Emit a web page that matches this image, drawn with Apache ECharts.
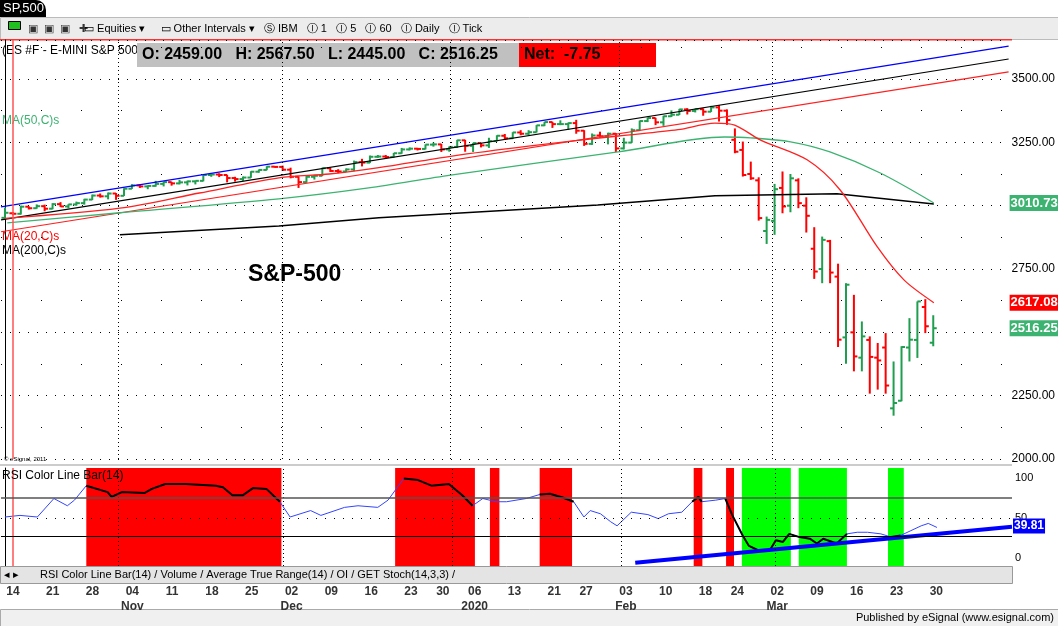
<!DOCTYPE html>
<html>
<head>
<meta charset="utf-8">
<script src="https://cdn.jsdelivr.net/npm/echarts@6/dist/echarts.min.js"></script>
<style>
  html, body { margin: 0; padding: 0; background: #fff; }
  #chart { width: 1058px; height: 626px; }
</style>
</head>
<body>
<div id="chart"></div>
<script>
// daily bars, Oct 11 2019 .. Mar 30 2020  [open, high, low, close]
var ohlc = [
  [2952,2993,2950,2972],[2970,2975,2962,2968],[2968,3000,2965,2996],[2996,2998,2985,2990],[2990,3005,2988,2998],
  [2998,3004,2978,2988],[2988,3010,2986,3006],[3006,3014,2995,2997],[2997,3006,2990,3005],[3005,3016,3000,3010],
  [3010,3027,3004,3024],[3024,3044,3022,3040],[3040,3048,3032,3037],[3037,3052,3025,3048],[3048,3050,3023,3039],
  [3039,3069,3038,3067],[3067,3085,3066,3080],[3080,3084,3070,3076],[3076,3080,3065,3078],[3078,3098,3075,3086],
  [3086,3095,3076,3093],[3093,3094,3079,3088],[3088,3102,3084,3092],[3092,3099,3080,3096],[3096,3099,3084,3098],
  [3098,3122,3096,3121],[3121,3126,3114,3123],[3123,3128,3113,3121],[3121,3122,3092,3109],[3109,3114,3095,3105],
  [3105,3115,3098,3111],[3111,3136,3110,3134],[3134,3143,3130,3141],[3141,3156,3140,3154],[3154,3156,3150,3153],
  [3153,3158,3137,3142],[3142,3150,3108,3114],[3114,3116,3070,3093],[3093,3120,3090,3114],[3114,3121,3103,3118],
  [3118,3150,3117,3148],[3148,3150,3133,3137],[3137,3144,3128,3135],[3135,3147,3133,3143],[3143,3178,3136,3172],
  [3172,3185,3155,3170],[3170,3198,3168,3193],[3193,3200,3189,3194],[3194,3200,3187,3192],[3192,3208,3190,3207],
  [3207,3228,3205,3222],[3222,3230,3218,3225],[3225,3228,3218,3224],[3224,3242,3222,3241],[3241,3249,3233,3242],
  [3242,3244,3212,3222],[3222,3234,3213,3232],[3232,3260,3228,3258],[3258,3260,3213,3236],[3236,3248,3212,3247],
  [3247,3248,3230,3238],[3238,3268,3228,3255],[3255,3278,3254,3276],[3276,3283,3260,3266],[3266,3290,3264,3289],
  [3289,3298,3278,3284],[3284,3298,3279,3290],[3290,3318,3289,3317],[3317,3331,3314,3330],[3330,3331,3307,3322],
  [3322,3337,3318,3322],[3322,3328,3300,3326],[3326,3339,3284,3296],[3296,3298,3236,3244],[3244,3285,3240,3277],
  [3277,3292,3268,3274],[3274,3288,3242,3284],[3284,3287,3212,3226],[3226,3268,3222,3249],[3249,3305,3248,3298],
  [3298,3336,3296,3334],[3334,3348,3330,3346],[3346,3347,3318,3329],[3329,3355,3315,3353],[3353,3376,3350,3359],
  [3359,3382,3358,3380],[3380,3385,3360,3374],[3374,3383,3368,3381],[3381,3384,3355,3371],[3371,3394,3370,3388],
  [3388,3397,3332,3375],[3375,3380,3319,3338],[3260,3305,3207,3213],[3220,3253,3115,3121],[3125,3174,3102,3108],
  [3100,3112,2941,2951],[2900,2957,2849,2944],[2940,3086,2885,3065],[3070,3135,2970,2997],[3000,3125,2974,3108],
  [3100,3108,2990,3010],[3000,3033,2894,2960],[2830,2915,2711,2740],[2750,2878,2694,2865],[2860,2865,2694,2736],
  [2720,2771,2442,2471],[2480,2694,2376,2688],[2500,2648,2346,2405],[2400,2543,2346,2484],[2470,2484,2258,2403],
  [2400,2458,2274,2389],[2440,2497,2258,2290],[2200,2385,2171,2221],[2230,2445,2228,2442],[2440,2556,2385,2471],
  [2470,2622,2399,2622],[2600,2631,2497,2524],[2459,2567.5,2445,2516.25]
];
var netChange = -7.75;

// moving averages, knots (slot position, price)
var ma20Pos = [0,14.6,24.7,34.8,41.2,47.5,56.6,66.5,77.9,85.5,90.2,92.7,96,101.9,106.1,110.8,114.2,118];
var ma20Val = [2950,2990,3050,3110,3125,3150,3195,3235,3275,3300,3326,3318,3259,3181,3062,2838,2707,2617.08];
var ma50Pos = [0.3,14.6,34.8,46.2,56.6,77.9,91.4,94.7,99.8,104.8,111.2,118];
var ma50Val = [2932,2972,3027,3070,3121,3212,3271,3268,3252,3212,3129,3010.73];
var ma200Pos = [14.6,34.8,47.5,75.3,90.2,105.7,118];
var ma200Val = [2885,2920,2952,3003,3039,3047,3007];

// regression channel ends (left, right)
var chanUpper = [2995,3630];
var chanMid = [2944,3579];
var chanLower = [2897,3528];

// RSI(14) knots
var rsiPos = [0,1.9,4.1,6.2,7.9,8.8,10.3,13,13.5,14.8,17.7,18.6,20.3,22.9,26.7,27.6,28.8,30.1,31.4,33.1,34.8,36.1,38.7,40,43,44.7,47.2,48.5,50.5,52.3,54,56.2,57.9,59.2,60.5,62.2,63.5,66,67.7,69,70.7,72,73.3,74.1,75.4,76.7,77.5,79.3,81.4,82.7,84,85.7,87,87.8,88.2,90,91.2,92.1,93.4,94.2,95.5,96.8,97.6,98.5,99.3,100.6,101.9,102.8,103.6,105.3,106.6,107.9,109.2,110.9,112.2,113.4,114.7,116,116.9,118];
var rsiVal = [51,53,51,74,65,72,90,82,76,82,81,86,92,92,90,88,78,78,87,86,70,51,59,53,63,65,63,72,99,97,90,92,78,65,74,70,70,74,79,80,75,70,51,59,55,45,40,57,54,49,55,57,70,76,70,72,74,53,28,15,9,9,22,20,30,26,24,18,24,18,30,32,32,30,26,28,34,40,43,38];
var rsiTrend = [[79.8,-6],[127.5,39]];
var redBands = [[10.3,35],[49.4,59.5],[61.4,62.6],[67.7,71.8],[87.2,88.3],[91.3,92.3]];
var greenBands = [[93.3,99.5],[100.5,106.6],[111.8,113.8]];
var monthLines = [14.4,35.2,56.6,78,97.5];

// trading calendar (categories)
var holidays = ['2019-12-25','2020-01-01','2020-01-20','2020-02-17','2020-04-10'];
var dates = [];
(function () {
  var d = new Date(Date.UTC(2019, 9, 11));
  while (dates.length < 127) {
    var s = d.toISOString().slice(0, 10);
    var wd = d.getUTCDay();
    if (wd !== 0 && wd !== 6 && holidays.indexOf(s) < 0) dates.push(s);
    d.setUTCDate(d.getUTCDate() + 1);
  }
})();
var monthNames = {'11':'Nov','12':'Dec','01':'2020','02':'Feb','03':'Mar'};
var axisText = {};
(function () {
  var seen = {};
  for (var i = 1; i < ohlc.length; i++) {
    var cur = new Date(dates[i] + 'T00:00:00Z'), prev = new Date(dates[i - 1] + 'T00:00:00Z');
    if (cur.getUTCDay() < prev.getUTCDay() || (cur - prev) > 3 * 864e5) {
      var m = dates[i].slice(5, 7), day = dates[i].slice(8, 10);
      var t = '{d|' + day + '}';
      if (i > 1 && !seen[m]) { seen[m] = 1; t += '\n{m|' + monthNames[m] + '}'; }
      seen[m] = 1;
      axisText[i] = t;
    }
  }
})();

var GREEN = '#1f9e4f', RED = '#ff0000', MAGREEN = '#3cb371';
var last = ohlc[ohlc.length - 1];

function knots(pos, val) { return pos.map(function (p, k) { return [p, val[k]]; }); }
function inBand(p) {
  return redBands.concat(greenBands).some(function (b) { return p >= b[0] - 0.3 && p <= b[1] + 0.3; });
}
// value box at the right axis
function tag(y, text, bg, fs) {
  return { yAxis: y, lineStyle: { color: 'rgba(0,0,0,0)', width: 0 },
    label: { show: true, position: 'end', distance: 1, formatter: text, color: '#fff', fontSize: fs || 13,
      fontWeight: 'bold', backgroundColor: bg, padding: [2, 1, 1, 1] } };
}

var chart = echarts.init(document.getElementById('chart'));
var F = 'Liberation Sans';

chart.setOption({
  animation: false,
  textStyle: { fontFamily: F },
  grid: [
    { left: 1, right: 46, top: 40, bottom: 167 },
    { left: 1, right: 46, top: 468, bottom: 60 }
  ],
  xAxis: [
    { type: 'category', gridIndex: 0, data: dates, boundaryGap: true, show: false },
    { type: 'value', gridIndex: 0, min: -0.5, max: 127.5, show: false },
    { type: 'category', gridIndex: 1, data: dates, boundaryGap: true,
      axisLine: { show: false }, axisTick: { show: false },
      axisLabel: {
        margin: 18, interval: 0, color: '#000',
        formatter: function (v, i) { return axisText[i] || ''; },
        rich: { d: { fontSize: 12, fontWeight: 'bold', color: '#333', lineHeight: 15 },
                m: { fontSize: 12, fontWeight: 'bold', color: '#333', lineHeight: 15 } }
      } },
    { type: 'value', gridIndex: 1, min: -0.5, max: 127.5, show: false }
  ],
  yAxis: [
    { type: 'value', gridIndex: 0, position: 'right', min: 2000, max: 3654, interval: 250,
      axisLine: { show: true, lineStyle: { color: '#000', width: 1 } }, axisTick: { show: false },
      axisLabel: { color: '#000', fontSize: 12, margin: 3, showMaxLabel: false,
        formatter: function (v) { return v > 3500 ? '' : v.toFixed(2); } },
      splitLine: { show: true, lineStyle: { color: '#000', type: [1, 8] } },
      minorTick: { show: false, splitNumber: 2 },
      minorSplitLine: { show: true, lineStyle: { color: '#000', type: [1, 39] } } },
    { type: 'value', gridIndex: 1, position: 'right', min: -10, max: 112, interval: 10,
      axisLine: { show: true, lineStyle: { color: '#000', width: 1 } }, axisTick: { show: false },
      axisLabel: { color: '#000', fontSize: 11, margin: 3,
        formatter: function (v) { return (v === 0 || v === 50 || v === 100) ? String(v) : ''; } },
      splitLine: { show: false } }
  ],
  series: [
    // month separators + cursor line, price pane
    { type: 'line', xAxisIndex: 1, yAxisIndex: 0, data: [], silent: true,
      markLine: { symbol: 'none', silent: true, label: { show: false },
        data: monthLines.map(function (p) { return { xAxis: p, lineStyle: { color: '#000', type: [1, 3], width: 1 } }; })
          .concat([{ xAxis: 1.05, lineStyle: { color: '#ff5555', type: 'solid', width: 1.5 } }]) } },
    { type: 'line', xAxisIndex: 3, yAxisIndex: 1, data: [], silent: true,
      markArea: { silent: true,
        data: redBands.map(function (b) { return [{ xAxis: b[0], itemStyle: { color: RED } }, { xAxis: b[1] }]; })
          .concat(greenBands.map(function (b) { return [{ xAxis: b[0], itemStyle: { color: '#00ff00' } }, { xAxis: b[1] }]; })) },
      markLine: { symbol: 'none', silent: true, label: { show: false },
        data: monthLines.map(function (p) { return { xAxis: p, lineStyle: { color: '#000', type: [1, 3], width: 1 } }; })
          .concat([{ xAxis: 1.05, lineStyle: { color: '#ff5555', type: 'solid', width: 1.5 } },
                   { yAxis: 75, lineStyle: { color: '#555', type: 'solid', width: 1.5 } },
                   { yAxis: 27, lineStyle: { color: '#000', type: 'solid', width: 1 } },
                   { yAxis: 50, lineStyle: { color: '#000', type: [1, 8], width: 1 } }]) } },
    // channel
    { type: 'line', xAxisIndex: 1, yAxisIndex: 0, symbol: 'none', lineStyle: { color: '#0000ff', width: 1.2 },
      data: [[-0.5, chanUpper[0]], [127.5, chanUpper[1]]] },
    { type: 'line', xAxisIndex: 1, yAxisIndex: 0, symbol: 'none', lineStyle: { color: '#000', width: 1.2 },
      data: [[-0.5, chanMid[0]], [127.5, chanMid[1]]] },
    { type: 'line', xAxisIndex: 1, yAxisIndex: 0, symbol: 'none', lineStyle: { color: '#ff2020', width: 1.2 },
      data: [[-0.5, chanLower[0]], [127.5, chanLower[1]]] },
    // moving averages
    { type: 'line', xAxisIndex: 1, yAxisIndex: 0, symbol: 'none', lineStyle: { color: '#000', width: 1.5 },
      data: knots(ma200Pos, ma200Val) },
    { type: 'line', xAxisIndex: 1, yAxisIndex: 0, symbol: 'none', smooth: 0.3, lineStyle: { color: MAGREEN, width: 1.3 },
      data: knots(ma50Pos, ma50Val) },
    { type: 'line', xAxisIndex: 1, yAxisIndex: 0, symbol: 'none', smooth: 0.3, lineStyle: { color: '#ff2020', width: 1.3 },
      data: knots(ma20Pos, ma20Val) },
    // price bars
    { type: 'custom', xAxisIndex: 0, yAxisIndex: 0,
      data: ohlc.map(function (b, i) { return [i, b[0], b[1], b[2], b[3]]; }),
      renderItem: function (params, api) {
        var i = api.value(0), o = api.value(1), h = api.value(2), l = api.value(3), c = api.value(4);
        var pH = api.coord([i, h]), pL = api.coord([i, l]), pO = api.coord([i, o]), pC = api.coord([i, c]);
        var col = c >= o ? GREEN : RED;
        var st = { stroke: col, lineWidth: 2 };
        return { type: 'group', children: [
          { type: 'line', shape: { x1: pH[0], y1: pH[1], x2: pL[0], y2: pL[1] }, style: st },
          { type: 'line', shape: { x1: pO[0] - 3.5, y1: pO[1], x2: pO[0], y2: pO[1] }, style: st },
          { type: 'line', shape: { x1: pC[0], y1: pC[1], x2: pC[0] + 3.5, y2: pC[1] }, style: st }
        ] };
      } },
    // right-axis value boxes
    { type: 'line', xAxisIndex: 1, yAxisIndex: 0, data: [], silent: true,
      markLine: { symbol: 'none', silent: true,
        data: [tag(ma50Val[ma50Val.length - 1], ma50Val[ma50Val.length - 1].toFixed(2), MAGREEN),
               tag(ma20Val[ma20Val.length - 1], ma20Val[ma20Val.length - 1].toFixed(2), RED),
               tag(last[3], last[3].toFixed(2), MAGREEN)] } },
    // RSI
    { type: 'line', xAxisIndex: 3, yAxisIndex: 1, symbol: 'none', lineStyle: { color: '#3344ff', width: 1 },
      data: knots(rsiPos, rsiVal) },
    { type: 'line', xAxisIndex: 3, yAxisIndex: 1, symbol: 'none', lineStyle: { color: '#000', width: 2 },
      data: rsiPos.map(function (p, k) { return [p, inBand(p) ? rsiVal[k] : '-']; }) },
    { type: 'line', xAxisIndex: 3, yAxisIndex: 1, symbol: 'none', lineStyle: { color: '#0000ff', width: 4 },
      data: rsiTrend,
      markLine: { symbol: 'none', silent: true, data: [tag(39.81, '39.81', '#0000ff', 12)] } }
  ],
  graphic: [
    // top tab + toolbar
    { type: 'rect', left: 0, top: 0, shape: { width: 1058, height: 17 }, style: { fill: '#fff' } },
    { type: 'rect', left: 0, top: 0, shape: { width: 46, height: 17, r: [0, 10, 0, 0] }, style: { fill: '#000' } },
    { type: 'text', left: 3, top: 2, style: { text: 'SP,500', fill: '#fff', font: '13px ' + F } },
    { type: 'rect', left: 0, top: 17, shape: { width: 1058, height: 22 }, style: { fill: '#ececec', stroke: '#bbb' } },
    { type: 'rect', left: 8, top: 21, shape: { width: 12, height: 8 }, style: { fill: '#1fbf1f', stroke: '#000' } },
    { type: 'text', left: 28, top: 23, style: { text: '▣  ▣  ▣   ✚', fill: '#333', font: '11px ' + F } },
    { type: 'text', left: 84, top: 23, style: { text: '▭ Equities ▾     ▭ Other Intervals ▾   Ⓢ IBM   Ⓘ 1   Ⓘ 5   Ⓘ 60   Ⓘ Daily   Ⓘ Tick', fill: '#000', font: '11px ' + F } },
    { type: 'rect', left: 0, top: 39, shape: { width: 1012, height: 1.5 }, style: { fill: '#ff3030' } },
    // header
    { type: 'text', left: 2, top: 45, style: { text: '(ES #F - E-MINI S&P 500.', fill: '#000', font: '12px ' + F } },
    { type: 'rect', left: 137, top: 43, shape: { width: 382, height: 24 }, style: { fill: '#c0c0c0' } },
    { type: 'text', left: 142, top: 47, style: {
        text: 'O: ' + last[0].toFixed(2) + '   H: ' + last[1].toFixed(2) + '   L: ' + last[2].toFixed(2) + '   C: ' + last[3].toFixed(2),
        fill: '#000', font: 'bold 16px ' + F } },
    { type: 'rect', left: 519, top: 43, shape: { width: 137, height: 24 }, style: { fill: '#ff0000' } },
    { type: 'text', left: 524, top: 47, style: { text: 'Net:  ' + netChange.toFixed(2), fill: '#000', font: 'bold 16px ' + F } },
    // series labels
    { type: 'text', left: 2, top: 115, style: { text: 'MA(50,C)s', fill: MAGREEN, font: '12px ' + F } },
    { type: 'text', left: 2, top: 231, style: { text: 'MA(20,C)s', fill: '#ff0000', font: '12px ' + F } },
    { type: 'text', left: 2, top: 245, style: { text: 'MA(200,C)s', fill: '#000', font: '12px ' + F } },
    { type: 'text', left: 248, top: 263, style: { text: 'S&P-500', fill: '#000', font: 'bold 23px ' + F } },
    { type: 'text', left: 4, top: 456, style: { text: '© eSignal, 2011', fill: '#000', font: '6px ' + F } },
    { type: 'rect', left: 0, top: 464, shape: { width: 1012, height: 2 }, style: { fill: '#ccc' } },
    { type: 'text', left: 2, top: 470, z: 100, style: { text: 'RSI Color Line Bar(14)', fill: '#000', font: '12px ' + F } },
    // tab strip
    { type: 'rect', left: 0, top: 566, z: 100, shape: { width: 1012, height: 17 }, style: { fill: '#e4e4e4', stroke: '#999' } },
    { type: 'text', left: 4, top: 569, z: 101, style: { text: '◂ ▸', fill: '#000', font: '11px ' + F } },
    { type: 'text', left: 40, top: 569, z: 101, style: {
        text: 'RSI Color Line Bar(14) / Volume / Average True Range(14) / OI / GET Stoch(14,3,3) /', fill: '#000', font: '11px ' + F } },
    // footer
    { type: 'rect', left: 0, top: 609, shape: { width: 1058, height: 17 }, style: { fill: '#f0f0f0', stroke: '#aaa' } },
    { type: 'text', right: 4, top: 612, style: { text: 'Published by eSignal (www.esignal.com)', fill: '#000', font: '11px ' + F } }
  ]
});
</script>
</body>
</html>
